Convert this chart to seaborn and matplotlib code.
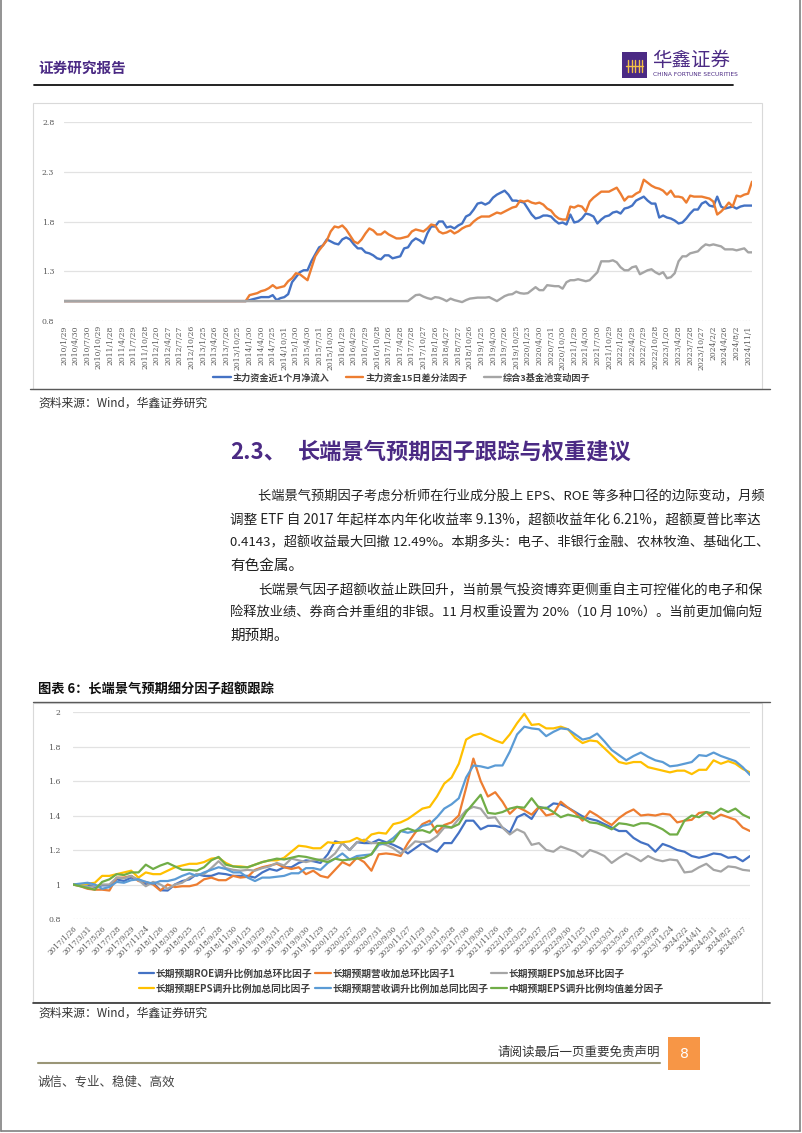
import matplotlib
matplotlib.use("Agg")
import matplotlib.pyplot as plt
from matplotlib.lines import Line2D
from matplotlib.patches import Rectangle
import pandas as pd
import seaborn as sns

# ---- chart 1 data (monthly, 2010/1 - 2024/11) ----
c1_labels = ["2010/1/29", "2010/4/30", "2010/7/30", "2010/10/29", "2011/1/28", "2011/4/29", "2011/7/29",
             "2011/10/28", "2012/1/20", "2012/4/27", "2012/7/27", "2012/10/26", "2013/1/25", "2013/4/26",
             "2013/7/26", "2013/10/25", "2014/1/30", "2014/4/30", "2014/7/25", "2014/10/31", "2015/1/30",
             "2015/4/30", "2015/7/31", "2015/10/30", "2016/1/29", "2016/4/29", "2016/7/29", "2016/10/28",
             "2017/1/26", "2017/4/28", "2017/7/28", "2017/10/27", "2018/1/26", "2018/4/27", "2018/7/27",
             "2018/10/26", "2019/1/25", "2019/4/30", "2019/7/26", "2019/10/25", "2020/1/23", "2020/4/30",
             "2020/7/31", "2020/10/30", "2021/1/29", "2021/4/30", "2021/7/30", "2021/10/29", "2022/1/28",
             "2022/4/29", "2022/7/29", "2022/10/28", "2023/1/20", "2023/4/28", "2023/7/28", "2023/10/27",
             "2024/2/2", "2024/4/26", "2024/8/2", "2024/11/1"]
c1_names = ["主力资金近1个月净流入", "主力资金15日差分法因子", "综合3基金池变动因子"]

flow_1m = [1.0] * 48 + [
    1.01, 1.02, 1.03, 1.04, 1.04, 1.04, 1.06, 1.01, 1.03, 1.04,
    1.07, 1.19, 1.24, 1.29, 1.31, 1.31, 1.40, 1.47, 1.54, 1.56,
    1.62, 1.60, 1.58, 1.57, 1.62, 1.64, 1.62, 1.57, 1.53, 1.53,
    1.49, 1.48, 1.46, 1.43, 1.42, 1.46, 1.46, 1.43, 1.44, 1.45,
    1.53, 1.54, 1.60, 1.63, 1.61, 1.58, 1.68, 1.75, 1.75, 1.80,
    1.80, 1.74, 1.75, 1.73, 1.76, 1.78, 1.85, 1.87, 1.92, 1.98,
    1.99, 1.97, 1.99, 2.04, 2.07, 2.09, 2.11, 2.07, 2.01, 2.01,
    2.00, 1.99, 1.93, 1.87, 1.83, 1.84, 1.86, 1.86, 1.85, 1.81,
    1.78, 1.79, 1.77, 1.87, 1.79, 1.80, 1.83, 1.88, 1.87, 1.85,
    1.78, 1.82, 1.85, 1.86, 1.89, 1.90, 1.88, 1.93, 1.94, 1.96,
    2.01, 2.03, 2.05, 2.01, 1.98, 1.98, 1.84, 1.86, 1.84, 1.83,
    1.81, 1.78, 1.79, 1.83, 1.88, 1.92, 1.92, 1.98, 2.00, 1.96,
    1.95, 2.05, 1.95, 1.93, 1.94, 1.95, 1.93, 1.95, 1.96, 1.96, 1.96]
flow_15d = [1.0] * 48 + [
    1.06, 1.07, 1.08, 1.10, 1.11, 1.13, 1.16, 1.13, 1.14, 1.15,
    1.20, 1.23, 1.28, 1.27, 1.24, 1.21, 1.33, 1.45, 1.51, 1.56,
    1.61, 1.70, 1.75, 1.74, 1.76, 1.72, 1.66, 1.60, 1.58, 1.62,
    1.68, 1.73, 1.71, 1.67, 1.67, 1.70, 1.67, 1.65, 1.63, 1.63,
    1.64, 1.65, 1.70, 1.72, 1.71, 1.70, 1.73, 1.77, 1.76, 1.70,
    1.68, 1.69, 1.71, 1.68, 1.70, 1.73, 1.75, 1.76, 1.80, 1.83,
    1.85, 1.85, 1.85, 1.87, 1.89, 1.88, 1.90, 1.92, 1.94, 1.95,
    2.01, 2.00, 2.01, 1.99, 1.98, 1.99, 1.97, 1.93, 1.91, 1.86,
    1.83, 1.82, 1.82, 1.95, 1.94, 1.96, 1.95, 1.90, 2.00, 2.04,
    2.07, 2.10, 2.10, 2.10, 2.12, 2.14, 2.08, 2.01, 2.05, 2.05,
    2.08, 2.10, 2.22, 2.19, 2.16, 2.14, 2.13, 2.11, 2.07, 2.11,
    2.05, 2.05, 2.04, 1.99, 2.06, 2.05, 2.05, 2.05, 2.04, 2.03,
    2.00, 1.87, 1.90, 1.94, 1.99, 1.95, 2.06, 2.05, 2.07, 2.08, 2.20]
fund_pool = [1.0] * 90 + [
    1.03, 1.06, 1.065, 1.045, 1.03, 1.02, 1.04, 1.035, 1.02, 1.0,
    1.025, 1.01, 1.0, 0.99, 1.01, 1.025, 1.03, 1.035, 1.035, 1.035,
    1.04, 1.02, 1.0, 1.025, 1.05, 1.065, 1.07, 1.095, 1.08, 1.075,
    1.08, 1.11, 1.14, 1.11, 1.11, 1.16, 1.155, 1.15, 1.15, 1.125,
    1.19, 1.21, 1.21, 1.22, 1.21, 1.20, 1.21, 1.25, 1.29, 1.40,
    1.40, 1.40, 1.41, 1.39, 1.34, 1.31, 1.31, 1.34, 1.35, 1.27,
    1.29, 1.31, 1.32, 1.29, 1.27, 1.29, 1.23, 1.24, 1.28, 1.40,
    1.45, 1.45, 1.48, 1.49, 1.50, 1.54, 1.57, 1.56, 1.57, 1.56,
    1.55, 1.52, 1.52, 1.52, 1.51, 1.52, 1.53, 1.49, 1.49]

# ---- chart 2 data (monthly, 2017/1 - 2024/10) ----
c2_labels = ["2017/1/26", "2017/3/31", "2017/5/26", "2017/7/28", "2017/9/29", "2017/11/24",
             "2018/1/26", "2018/3/30", "2018/5/25", "2018/7/27", "2018/9/28", "2018/11/30",
             "2019/1/25", "2019/3/29", "2019/5/31", "2019/7/26", "2019/9/30", "2019/11/29",
             "2020/1/23", "2020/3/27", "2020/5/29", "2020/7/31", "2020/9/30", "2020/11/27",
             "2021/1/29", "2021/3/31", "2021/5/28", "2021/7/30", "2021/9/30", "2021/11/26",
             "2022/1/28", "2022/3/25", "2022/5/27", "2022/7/29", "2022/9/30", "2022/11/25",
             "2023/1/20", "2023/3/31", "2023/5/26", "2023/7/28", "2023/9/28", "2023/11/24",
             "2024/2/2", "2024/4/1", "2024/5/31", "2024/8/2", "2024/9/27"]
c2_names = ["长期预期ROE调升比例加总环比因子", "长期预期营收加总环比因子1", "长期预期EPS加总环比因子",
            "长期预期EPS调升比例加总同比因子", "长期预期营收调升比例加总同比因子", "中期预期EPS调升比例均值差分因子"]

roe_qoq = [1.0, 1.0, 1.0, 0.985, 0.995, 0.995, 1.03, 1.02, 1.04, 1.03,
           1.0, 1.01, 0.967, 0.965, 1.0, 1.02, 1.03, 1.06, 1.05, 1.05,
           1.065, 1.06, 1.05, 1.05, 1.05, 1.04, 1.07, 1.09, 1.08, 1.10,
           1.10, 1.125, 1.14, 1.135, 1.125, 1.175, 1.25, 1.24, 1.20, 1.245,
           1.24, 1.24, 1.26, 1.245, 1.23, 1.21, 1.18, 1.21, 1.24, 1.21,
           1.19, 1.24, 1.24, 1.30, 1.37, 1.37, 1.32, 1.34, 1.34, 1.33,
           1.30, 1.39, 1.41, 1.38, 1.45, 1.44, 1.47, 1.465, 1.445, 1.42,
           1.395, 1.38, 1.37, 1.35, 1.33, 1.31, 1.31, 1.27, 1.245, 1.23,
           1.19, 1.235, 1.22, 1.20, 1.19, 1.165, 1.155, 1.165, 1.18, 1.175,
           1.155, 1.16, 1.135, 1.165]
rev_qoq = [1.0, 0.99, 0.975, 0.97, 0.97, 0.965, 1.04, 1.04, 1.05, 1.02,
           1.015, 1.0, 0.965, 1.0, 0.985, 0.99, 0.99, 1.0, 1.03, 1.04,
           1.025, 1.025, 1.05, 1.04, 1.045, 1.085, 1.10, 1.11, 1.12, 1.10,
           1.09, 1.10, 1.06, 1.08, 1.05, 1.04, 1.085, 1.13, 1.11, 1.155,
           1.13, 1.08, 1.175, 1.18, 1.175, 1.165, 1.24, 1.30, 1.35, 1.37,
           1.30, 1.345, 1.36, 1.40, 1.56, 1.73, 1.60, 1.51, 1.535, 1.48,
           1.41, 1.45, 1.43, 1.405, 1.45, 1.40, 1.41, 1.48, 1.445, 1.415,
           1.37, 1.425, 1.40, 1.37, 1.345, 1.385, 1.415, 1.435, 1.40, 1.405,
           1.40, 1.41, 1.405, 1.36, 1.37, 1.375, 1.415, 1.42, 1.38, 1.405,
           1.39, 1.375, 1.33, 1.31]
eps_qoq = [1.0, 0.995, 0.985, 0.99, 1.0, 1.0, 1.04, 1.035, 1.05, 1.025,
           0.99, 1.015, 1.0, 0.975, 1.0, 1.01, 1.04, 1.06, 1.06, 1.095,
           1.135, 1.095, 1.085, 1.08, 1.085, 1.08, 1.095, 1.105, 1.125, 1.11,
           1.15, 1.14, 1.13, 1.14, 1.145, 1.145, 1.18, 1.24, 1.20, 1.245,
           1.26, 1.24, 1.24, 1.23, 1.21, 1.18, 1.21, 1.25, 1.245, 1.25,
           1.28, 1.33, 1.33, 1.38, 1.43, 1.45, 1.44, 1.385, 1.39, 1.33,
           1.29, 1.32, 1.30, 1.23, 1.24, 1.20, 1.19, 1.22, 1.205, 1.19,
           1.16, 1.20, 1.185, 1.165, 1.125, 1.155, 1.18, 1.16, 1.135, 1.165,
           1.145, 1.135, 1.145, 1.14, 1.07, 1.075, 1.10, 1.12, 1.085, 1.075,
           1.105, 1.10, 1.085, 1.08]
eps_yoy = [1.0, 1.0, 1.005, 1.01, 1.05, 1.05, 1.06, 1.07, 1.08, 1.04,
           1.07, 1.06, 1.06, 1.08, 1.10, 1.11, 1.12, 1.12, 1.13, 1.15,
           1.155, 1.125, 1.105, 1.105, 1.10, 1.115, 1.13, 1.14, 1.14, 1.155,
           1.19, 1.225, 1.22, 1.21, 1.21, 1.245, 1.24, 1.245, 1.25, 1.27,
           1.25, 1.29, 1.30, 1.295, 1.35, 1.36, 1.38, 1.41, 1.44, 1.45,
           1.51, 1.585, 1.62, 1.70, 1.84, 1.865, 1.875, 1.855, 1.835, 1.82,
           1.87, 1.935, 1.99, 1.925, 1.93, 1.905, 1.905, 1.915, 1.90, 1.85,
           1.82, 1.835, 1.83, 1.79, 1.75, 1.71, 1.70, 1.71, 1.71, 1.68,
           1.67, 1.66, 1.65, 1.66, 1.66, 1.64, 1.665, 1.665, 1.72, 1.70,
           1.715, 1.70, 1.67, 1.65]
rev_yoy = [1.0, 1.005, 1.01, 1.0, 0.975, 0.985, 1.015, 1.01, 1.025, 1.03,
           1.015, 1.005, 1.02, 1.02, 1.03, 1.05, 1.065, 1.05, 1.07, 1.085,
           1.10, 1.09, 1.07, 1.07, 1.04, 1.02, 1.04, 1.04, 1.045, 1.05,
           1.065, 1.065, 1.095, 1.095, 1.085, 1.125, 1.15, 1.18, 1.145, 1.165,
           1.17, 1.175, 1.23, 1.24, 1.27, 1.31, 1.30, 1.31, 1.34, 1.35,
           1.39, 1.44, 1.465, 1.50, 1.62, 1.69, 1.685, 1.675, 1.69, 1.69,
           1.77, 1.87, 1.915, 1.905, 1.90, 1.86, 1.885, 1.905, 1.90, 1.87,
           1.84, 1.85, 1.875, 1.83, 1.78, 1.75, 1.72, 1.745, 1.765, 1.74,
           1.72, 1.71, 1.685, 1.69, 1.70, 1.71, 1.75, 1.745, 1.765, 1.745,
           1.73, 1.715, 1.68, 1.635]
mid_eps = [1.0, 0.99, 0.98, 0.97, 1.015, 1.03, 1.06, 1.055, 1.07, 1.07,
           1.115, 1.09, 1.11, 1.125, 1.105, 1.085, 1.085, 1.08, 1.10, 1.14,
           1.16, 1.115, 1.105, 1.10, 1.10, 1.115, 1.13, 1.14, 1.15, 1.145,
           1.155, 1.165, 1.16, 1.15, 1.14, 1.13, 1.15, 1.14, 1.145, 1.15,
           1.155, 1.175, 1.24, 1.24, 1.25, 1.31, 1.325, 1.31, 1.315, 1.30,
           1.34, 1.34, 1.33, 1.35, 1.42, 1.47, 1.52, 1.415, 1.41, 1.42,
           1.44, 1.45, 1.445, 1.50, 1.445, 1.445, 1.42, 1.39, 1.405, 1.395,
           1.385, 1.36, 1.355, 1.34, 1.32, 1.355, 1.35, 1.34, 1.355, 1.355,
           1.34, 1.32, 1.29, 1.29, 1.37, 1.40, 1.39, 1.42, 1.41, 1.44,
           1.42, 1.44, 1.405, 1.385]

c1_colors = ["#4472C4", "#ED7D31", "#A5A5A5"]
c2_colors = ["#4472C4", "#ED7D31", "#A5A5A5", "#FFC000", "#5B9BD5", "#70AD47"]
PURPLE = "#4b2a84"

sns.set_theme(style="white")
plt.rcParams["font.family"] = ["Noto Sans CJK SC", "DejaVu Sans"]
plt.rcParams["axes.unicode_minus"] = False
CJK = ["Noto Sans CJK SC", "DejaVu Sans"]

W, H = 802, 1133
fig = plt.figure(figsize=(W / 100, H / 100), dpi=100)


def fx(x):
    return x / W


def fy(y):
    return 1 - y / H


def hline(x0, x1, y, color, lw):
    fig.add_artist(Line2D([fx(x0), fx(x1)], [fy(y), fy(y)], transform=fig.transFigure, color=color, lw=lw))


def vline(x, y0, y1, color, lw):
    fig.add_artist(Line2D([fx(x), fx(x)], [fy(y0), fy(y1)], transform=fig.transFigure, color=color, lw=lw))


def box(x0, y0, x1, y1, **kw):
    fig.add_artist(Rectangle((fx(x0), fy(y1)), (x1 - x0) / W, (y1 - y0) / H, transform=fig.transFigure, **kw))


def txt(x, y, s, **kw):
    kw.setdefault("va", "center")
    return fig.text(fx(x), fy(y), s, **kw)


def add_ax(l, t, r, b):
    return fig.add_axes([fx(l), fy(b), (r - l) / W, (b - t) / H])


def style_chart(ax, yticks, ylabels, xmax, labels, step, rot, xsize, ypad, xpad):
    ax.set_xlim(0, xmax)
    ax.set_ylim(yticks[0], yticks[-1])
    for v in yticks[1:]:
        ax.axhline(v, color="#e2e2e2", lw=0.9, zorder=0)
    ax.axhline(yticks[0], color="#c4c4c4", lw=0.9, ls=(0, (1, 1.5)), zorder=0)
    ax.set_yticks(yticks)
    ax.set_yticklabels(ylabels, family="DejaVu Serif", fontsize=5.6, color="#595959")
    ax.set_xticks(list(range(0, step * len(labels), step)))
    if rot == 90:
        ax.set_xticklabels(labels, rotation=90, family="DejaVu Serif", fontsize=xsize, color="#595959")
    else:
        ax.set_xticklabels(labels, rotation=rot, ha="right", rotation_mode="anchor",
                           family="DejaVu Serif", fontsize=xsize, color="#595959")
    ax.tick_params(axis="y", length=0, pad=ypad)
    ax.tick_params(axis="x", length=0, pad=xpad)
    ax.set_xlabel("")
    ax.set_ylabel("")
    for s in ax.spines.values():
        s.set_visible(False)


# ---- page frame & header ----
vline(1, 0, 1131, "#808080", 1.2)
vline(800, 0, 1131, "#808080", 1.2)
hline(1, 800, 1131, "#808080", 1.2)

txt(38, 68, "证券研究报告", color=PURPLE, fontsize=10.5, fontweight="bold", family=CJK)
box(622, 52, 647, 78, color=PURPLE, lw=0)
hline(626, 643, 66, "#f3c146", 1.0)
for lx in [628, 631.5, 635, 638.5, 642]:
    vline(lx, 60, 72, "#f3c146", 1.0)
txt(652, 61, "华鑫证券", color=PURPLE, fontsize=14, family=CJK)
txt(653, 74.5, "CHINA FORTUNE SECURITIES", color=PURPLE, fontsize=4.2, family="DejaVu Sans")
hline(34, 733, 85, "#111111", 1.3)

# ---- chart 1 ----
box(33, 103, 762, 389, fill=False, ec="#d9d9d9", lw=0.8)
ax1 = add_ax(64, 122, 752, 321)
df1 = pd.DataFrame({c1_names[0]: flow_1m, c1_names[1]: flow_15d, c1_names[2]: fund_pool})
df1["idx"] = range(len(df1))
long1 = df1.melt(id_vars="idx", var_name="series", value_name="value")
sns.lineplot(data=long1, x="idx", y="value", hue="series", hue_order=c1_names,
             palette=dict(zip(c1_names, c1_colors)), linewidth=1.7, legend=False, ax=ax1)
style_chart(ax1, [0.8, 1.3, 1.8, 2.3, 2.8], ["0.8", "1.3", "1.8", "2.3", "2.8"],
            len(flow_1m) - 1, c1_labels, 3, 90, 5.5, 7, 3)
fig.legend(ax1.lines[:3], c1_names, loc="center", bbox_to_anchor=(fx(402), fy(378)), ncol=3,
           frameon=False, handlelength=1.9, handletextpad=0.2, columnspacing=1.8,
           prop={"family": CJK, "weight": "bold", "size": 6.6}, labelcolor="#404040")
hline(30, 770, 389, "#5a5a5a", 1.0)
txt(38, 403, "资料来源：Wind，华鑫证券研究", color="#333333", fontsize=8.5, family=CJK)

# ---- section title & text ----
txt(230, 452, "2.3、", color=PURPLE, fontsize=16, fontweight="bold", family=CJK)
txt(298, 452, "长端景气预期因子跟踪与权重建议", color=PURPLE, fontsize=16, fontweight="bold", family=CJK)

para_lines = [
    (258, 497, "长端景气预期因子考虑分析师在行业成分股上 EPS、ROE 等多种口径的边际变动，月频", True),
    (230, 520, "调整 ETF 自 2017 年起样本内年化收益率 9.13%，超额收益年化 6.21%，超额夏普比率达", True),
    (230, 543, "0.4143，超额收益最大回撤 12.49%。本期多头：电子、非银行金融、农林牧渔、基础化工、", True),
    (230, 566, "有色金属。", False),
    (258, 590, "长端景气因子超额收益止跌回升，当前景气投资博弈更侧重自主可控催化的电子和保", True),
    (230, 613, "险释放业绩、券商合并重组的非银。11 月权重设置为 20%（10 月 10%）。当前更加偏向短", True),
    (230, 636, "期预期。", False),
]
renderer = fig.canvas.get_renderer()
for x, y, s, full in para_lines:
    t = txt(x, y, s, color="#222222", fontsize=10.5, family=CJK)
    if full:
        w = t.get_window_extent(renderer=renderer).width
        size = 10.5 * (762 - x) / w
        t.set_fontsize(min(max(size, 9.5), 11.5))

# ---- chart 2 ----
txt(38, 690, "图表 6：长端景气预期细分因子超额跟踪", color="#111111", fontsize=9.5, fontweight="bold", family=CJK)
hline(33, 770, 702, "#5a5a5a", 1.0)
box(33, 703, 762, 1002, fill=False, ec="#d9d9d9", lw=0.8)
ax2 = add_ax(73, 712, 750, 919)
df2 = pd.DataFrame(dict(zip(c2_names, [roe_qoq, rev_qoq, eps_qoq, eps_yoy, rev_yoy, mid_eps])))
df2["idx"] = range(len(df2))
long2 = df2.melt(id_vars="idx", var_name="series", value_name="value")
sns.lineplot(data=long2, x="idx", y="value", hue="series", hue_order=c2_names,
             palette=dict(zip(c2_names, c2_colors)), linewidth=1.6, legend=False, ax=ax2)
style_chart(ax2, [0.8, 1.0, 1.2, 1.4, 1.6, 1.8, 2.0], ["0.8", "1", "1.2", "1.4", "1.6", "1.8", "2"],
            len(roe_qoq) - 1, c2_labels, 2, 45, 5.2, 9, 4)
order = [0, 3, 1, 4, 2, 5]
fig.legend([ax2.lines[i] for i in order], [c2_names[i] for i in order], loc="center",
           bbox_to_anchor=(fx(401), fy(981)), ncol=3, frameon=False, handlelength=1.6,
           handletextpad=0.15, columnspacing=0.3, labelspacing=0.55,
           prop={"family": CJK, "weight": "bold", "size": 7}, labelcolor="#404040")
hline(33, 770, 1003, "#333333", 1.2)
txt(38, 1013, "资料来源：Wind，华鑫证券研究", color="#333333", fontsize=8.5, family=CJK)

# ---- footer ----
txt(660, 1052, "请阅读最后一页重要免责声明", color="#333333", fontsize=9, ha="right", family=CJK)
box(668, 1037, 700, 1070, color="#F79646", lw=0)
txt(684, 1053.5, "8", color="white", fontsize=10, ha="center", family="DejaVu Sans")
hline(38, 660, 1063, "#9a9677", 1.5)
txt(38, 1082, "诚信、专业、稳健、高效", color="#444444", fontsize=9, family=CJK)

fig.savefig("out.png", dpi=100)
